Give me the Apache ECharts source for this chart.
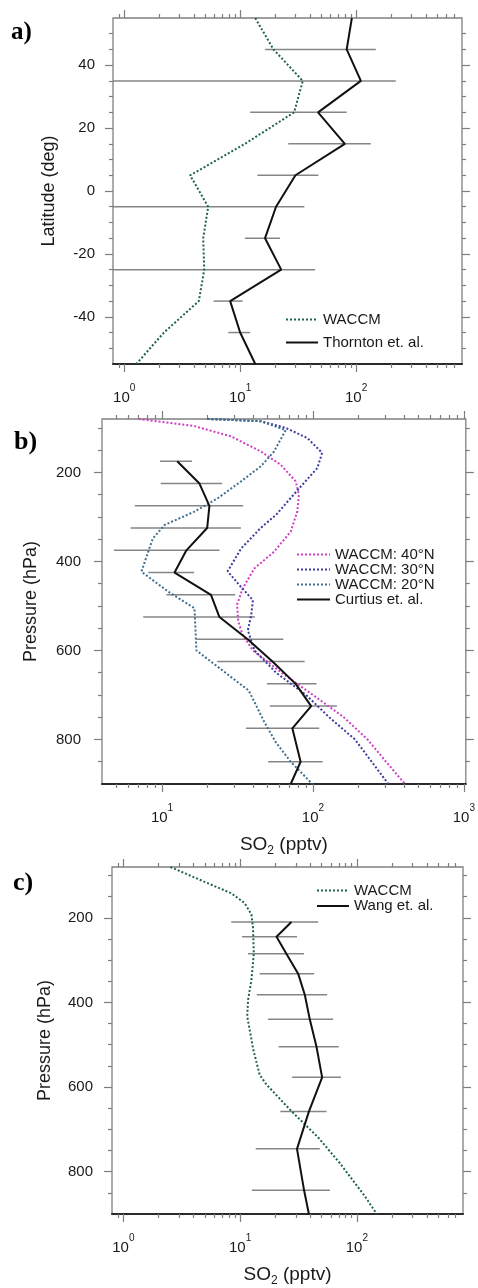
<!DOCTYPE html>
<html>
<head>
<meta charset="utf-8">
<script src="https://cdn.jsdelivr.net/npm/echarts@6/dist/echarts.min.js"></script>
<style>
  html, body { margin: 0; padding: 0; background: #fff; }
  #chart { width: 478px; height: 1288px; }
</style>
</head>
<body>
<div id="chart"></div>
<script>
// ---------- a) zonal SO2 profile (latitude bands) ----------
const latA = [55, 45, 35, 25, 15, 5, -5, -15, -25, -35, -45, -55];
const waccmA = [13.5, 19.4, 34.7, 29.2, 11.0, 3.7, 5.3, 4.8, 4.9, 4.4, 2.2, 1.27];
const thorntonA = [92, 83, 110, 47, 80, 30, 20.4, 16.4, 22.6, 8.2, 10.0, 13.5];
const thorntonLowA = [null, 16.4, 0.5, 12.2, 26, 14.1, 0.5, 11.0, 0.5, 5.9, 7.9, null];
const thorntonHighA = [null, 148, 220, 83, 134, 47.3, 35.8, 22.1, 44.3, 10.5, 12.2, null];

// ---------- b) vertical SO2 profiles vs Curtius et al. ----------
const presCurtius = [175, 225, 275, 325, 375, 425, 475, 525, 575, 625, 675, 725, 775, 850, 900];
const curtius = [12.6, 17.7, 20.6, 19.9, 14.5, 12.1, 21.1, 24.0, 36.9, 53.9, 76.8, 97.3, 73, 82.8, 71.2];
const curtiusLow = [9.7, 9.8, 6.6, 6.2, 4.8, 8.1, 10.7, 7.5, 16.9, 23.2, 49.5, 51.8, 36, 50.5, null];
const curtiusHigh = [15.8, 25.0, 34.5, 33.3, 24.0, 16.3, 30.5, 41.2, 63.6, 88.1, 105.6, 144, 110, 116, null];

const pres40N = [80, 96, 119, 153, 183, 220, 250, 288, 333, 378, 416, 461, 497, 535, 565, 600, 650, 700, 750, 800, 850, 900];
const waccm40N = [7.0, 16.4, 28.6, 45.2, 61.2, 76.8, 80.7, 78.7, 71.2, 55.3, 40.8, 34.2, 31.4, 32, 34.2, 40, 62, 100, 160, 230, 305, 407];
const pres30N = [80, 85, 100, 123, 156, 190, 224, 258, 295, 325, 371, 422, 453, 487, 520, 555, 600, 650, 700, 750, 800, 850, 900];
const waccm30N = [20, 45, 66, 92, 115, 107, 87, 71, 57, 45, 33.4, 27.2, 32.5, 40, 39, 37, 41, 57, 90, 128, 190, 245, 316];
const pres20N = [80, 85, 105, 153, 186, 220, 258, 288, 318, 348, 378, 423, 468, 505, 600, 690, 760, 806, 850, 900];
const waccm20N = [20, 45, 66, 55.2, 45.2, 33.4, 23.4, 16.4, 10.4, 8.7, 8.1, 7.3, 11, 16.4, 16.9, 37.5, 47.5, 56.7, 71.2, 99];

// ---------- c) vertical SO2 profile vs Wang et al. ----------
const presWang = [210, 245, 285, 332, 382, 440, 505, 577, 658, 746, 844, 900];
const wang = [27.5, 20.5, 24.9, 31.4, 35.8, 39.5, 45.1, 50.4, 38.8, 30.7, 35.3, 38.8];
const wangLow = [8.4, 10.4, 11.7, 14.7, 13.9, 17.3, 21.4, 27.9, 22.1, 13.6, 12.6, null];
const wangHigh = [46.6, 30.7, 35.3, 43, 55.6, 62.6, 70, 72.9, 55, 48.1, 58.7, null];
const presWaccmC = [80, 115, 142, 165, 192, 223, 285, 347, 394, 433, 487, 509, 571, 594, 657, 719, 780, 858, 900];
const waccmC = [2.53, 4.96, 8.4, 10.9, 12.5, 12.9, 13.1, 12.5, 11.7, 11.5, 12.5, 12.9, 14.7, 16.8, 27.5, 46.6, 71.5, 117, 148];

// ---------- tick values ----------
const logMajorA = [1, 10, 100];
const logMinorA = [0.9, 2, 3, 4, 5, 6, 7, 8, 9, 20, 30, 40, 50, 60, 70, 80, 90, 200, 300, 400, 500, 600, 700];
const logMajorB = [10, 100, 1000];
const logMinorB = [5, 6, 7, 8, 9, 20, 30, 40, 50, 60, 70, 80, 90, 200, 300, 400, 500, 600, 700, 800, 900];
const latMajor = [-40, -20, 0, 20, 40];
const latMinor = [-50, -45, -35, -30, -25, -15, -10, -5, 5, 10, 15, 25, 30, 35, 45, 50];
const presMajor = [200, 400, 600, 800];
const presMinor = [100, 150, 250, 300, 350, 450, 500, 550, 650, 700, 750, 850];

const FONT = 'Liberation Sans';
const TICK = { color: '#7d7d7d', width: 1.2 };
const LABEL_COLOR = '#1a1a1a';

const logLabel = v => '{b|10}{s|' + Math.round(Math.log10(v)) + '}';
const so2Name = '{a|SO}{b|2}{a| (pptv)}';

function xAxesFor(grid, min, max, majors, minors, opts) {
  const base = {
    type: 'log', logBase: 10, gridIndex: grid, min: min, max: max,
    splitLine: { show: false },
    axisLine: { show: false, onZero: false },
    axisLabel: { show: false }
  };
  const main = Object.assign({}, base, {
    position: 'bottom',
    axisLine: { show: true, onZero: false, lineStyle: { color: '#2a2a2a', width: 2 } },
    axisTick: { show: true, length: 8, customValues: majors, lineStyle: TICK },
    axisLabel: {
      show: true, customValues: majors, formatter: logLabel, margin: 19,
      rich: {
        b: { fontSize: 15, lineHeight: 22, verticalAlign: 'bottom', color: LABEL_COLOR, fontFamily: FONT },
        s: { fontSize: 10, lineHeight: 12, verticalAlign: 'top', color: LABEL_COLOR, fontFamily: FONT }
      }
    }
  });
  if (opts.name) {
    Object.assign(main, {
      name: so2Name, nameLocation: 'middle', nameGap: opts.nameGap,
      nameTextStyle: {
        rich: {
          a: { fontSize: 19, lineHeight: 24, verticalAlign: 'middle', color: LABEL_COLOR, fontFamily: FONT },
          b: { fontSize: 12, lineHeight: 12, verticalAlign: 'bottom', color: LABEL_COLOR, fontFamily: FONT }
        }
      }
    });
  }
  return [
    main,
    Object.assign({}, base, { position: 'bottom', axisTick: { show: true, length: 4, customValues: minors, lineStyle: TICK } }),
    Object.assign({}, base, { position: 'top', axisTick: { show: true, length: 8, customValues: majors, lineStyle: TICK } }),
    Object.assign({}, base, { position: 'top', axisTick: { show: true, length: 4, customValues: minors, lineStyle: TICK } })
  ];
}

function yAxesFor(grid, min, max, inverse, majors, minors, opts) {
  const base = {
    type: 'value', gridIndex: grid, min: min, max: max, inverse: inverse,
    splitLine: { show: false },
    axisLine: { show: false, onZero: false },
    axisLabel: { show: false }
  };
  const main = Object.assign({}, base, {
    position: 'left',
    axisTick: { show: true, length: 8, customValues: majors, lineStyle: TICK },
    axisLabel: { show: true, customValues: majors, margin: opts.margin, fontSize: 15, color: LABEL_COLOR, fontFamily: FONT },
    name: opts.name, nameLocation: 'middle', nameGap: opts.nameGap,
    nameTextStyle: { fontSize: 18, color: LABEL_COLOR, fontFamily: FONT }
  });
  return [
    main,
    Object.assign({}, base, { position: 'left', axisTick: { show: true, length: 4, customValues: minors, lineStyle: TICK } }),
    Object.assign({}, base, { position: 'right', axisTick: { show: true, length: 8, customValues: majors, lineStyle: TICK } }),
    Object.assign({}, base, { position: 'right', axisTick: { show: true, length: 4, customValues: minors, lineStyle: TICK } })
  ];
}

const pair = (xs, ys) => xs.map((x, i) => [x, ys[i]]);

function profile(name, axisIdx, xs, ys, color, dotted, width) {
  return {
    name: name, type: 'line', xAxisIndex: axisIdx, yAxisIndex: axisIdx,
    data: pair(xs, ys), symbol: 'none', showSymbol: false, clip: true, z: 3,
    lineStyle: { color: color, width: width, type: dotted ? [2, 2] : 'solid' },
    itemStyle: { color: color },
    silent: true
  };
}

function errorBars(axisIdx, lows, highs, levels) {
  const rows = [];
  levels.forEach((p, i) => { if (lows[i] != null) rows.push([lows[i], highs[i], p]); });
  return {
    type: 'custom', xAxisIndex: axisIdx, yAxisIndex: axisIdx, clip: true, silent: true, z: 2,
    data: rows, encode: { x: [0, 1], y: 2 },
    renderItem: function (params, api) {
      const a = api.coord([api.value(0), api.value(2)]);
      const b = api.coord([api.value(1), api.value(2)]);
      return {
        type: 'line',
        shape: { x1: a[0], y1: a[1], x2: b[0], y2: b[1] },
        style: { stroke: '#858585', lineWidth: 1.5 }
      };
    }
  };
}

const GREEN = '#1f6446';
const MAGENTA = '#cf3fc2';
const INDIGO = '#3b3ca0';
const STEEL = '#3f6f90';
const BLACK = '#111111';

const gridBox = { show: true, borderColor: '#808080', borderWidth: 1.3, backgroundColor: 'transparent' };

const legendText = { fontSize: 15, color: LABEL_COLOR, fontFamily: FONT };
// legend keys show the line sample only
const legendKey = { itemStyle: { opacity: 0 }, lineStyle: { opacity: 1 } };

const option = {
  animation: false,
  backgroundColor: '#ffffff',
  textStyle: { fontFamily: FONT },
  grid: [
    Object.assign({ left: 113, top: 18, width: 349, height: 346 }, gridBox),
    Object.assign({ left: 102, top: 419, width: 366, height: 365 }, gridBox),
    Object.assign({ left: 112, top: 867, width: 351, height: 352 }, gridBox)
  ],
  xAxis: [].concat(
    xAxesFor(0, 0.8, 820, logMajorA, logMinorA, {}),
    xAxesFor(1, 4, 1030, logMajorB, logMinorB, { name: true, nameGap: 49 }),
    xAxesFor(2, 0.8, 810, logMajorA, logMinorA, { name: true, nameGap: 49 })
  ),
  yAxis: [].concat(
    yAxesFor(0, -55, 55, false, latMajor, latMinor, { name: 'Latitude (deg)', nameGap: 55, margin: 18 }),
    yAxesFor(1, 80, 900, true, presMajor, presMinor, { name: 'Pressure (hPa)', nameGap: 62, margin: 21 }),
    yAxesFor(2, 80, 900, true, presMajor, presMinor, { name: 'Pressure (hPa)', nameGap: 58, margin: 19 })
  ),
  legend: [
    Object.assign({
      left: 285, top: 312, orient: 'vertical', padding: 0, itemWidth: 32, itemHeight: 14, itemGap: 8,
      selectedMode: false, data: ['WACCM', 'Thornton et. al.'],
      textStyle: Object.assign({ lineHeight: 14 }, legendText)
    }, legendKey),
    Object.assign({
      left: 296, top: 547, orient: 'vertical', padding: 0, itemWidth: 33, itemHeight: 12, itemGap: 0,
      selectedMode: false, data: ['WACCM: 40°N', 'WACCM: 30°N', 'WACCM: 20°N', 'Curtius et. al.'],
      textStyle: Object.assign({ lineHeight: 12 }, legendText)
    }, legendKey),
    Object.assign({
      left: 316, top: 883, orient: 'vertical', padding: 0, itemWidth: 32, itemHeight: 12, itemGap: 0.5,
      selectedMode: false, data: ['WACCM', 'Wang et. al.'],
      textStyle: Object.assign({ lineHeight: 12 }, legendText)
    }, legendKey)
  ],
  graphic: [
    { type: 'text', x: 11, y: 33, style: { text: 'a)', font: 'bold 25px "Liberation Serif"', fill: '#000', verticalAlign: 'middle' } },
    { type: 'text', x: 14, y: 442, style: { text: 'b)', font: 'bold 26px "Liberation Serif"', fill: '#000', verticalAlign: 'middle' } },
    { type: 'text', x: 13, y: 883, style: { text: 'c)', font: 'bold 26px "Liberation Serif"', fill: '#000', verticalAlign: 'middle' } }
  ],
  series: [
    // a)
    errorBars(0, thorntonLowA, thorntonHighA, latA),
    profile('WACCM', 0, waccmA, latA, GREEN, true, 2),
    profile('Thornton et. al.', 0, thorntonA, latA, BLACK, false, 2),
    // b)
    errorBars(4, curtiusLow, curtiusHigh, presCurtius),
    profile('WACCM: 40°N', 4, waccm40N, pres40N, MAGENTA, true, 2),
    profile('WACCM: 30°N', 4, waccm30N, pres30N, INDIGO, true, 2),
    profile('WACCM: 20°N', 4, waccm20N, pres20N, STEEL, true, 2),
    profile('Curtius et. al.', 4, curtius, presCurtius, BLACK, false, 2),
    // c)
    errorBars(8, wangLow, wangHigh, presWang),
    profile('WACCM', 8, waccmC, presWaccmC, GREEN, true, 2),
    profile('Wang et. al.', 8, wang, presWang, BLACK, false, 2)
  ]
};

const chart = echarts.init(document.getElementById('chart'), null, { renderer: 'canvas' });
chart.setOption(option);
</script>
</body>
</html>
